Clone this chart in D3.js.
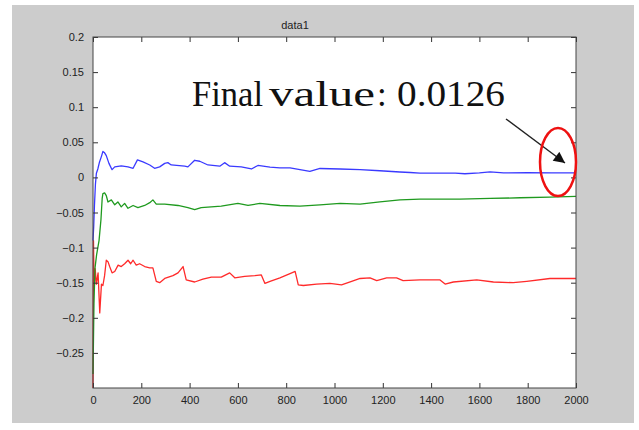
<!DOCTYPE html>
<html lang="en">
<head>
<meta charset="UTF-8">
<script src="https://cdn.jsdelivr.net/npm/d3@7/dist/d3.min.js"></script>
<title>data1</title>
<style>
  body { margin: 0; background: #fff; }
  svg text { font-family: "Liberation Sans", Arial, sans-serif; }
  svg text.serif { font-family: "Liberation Serif", "Times New Roman", serif; }
</style>
</head>
<body>
<svg id="chart" width="639" height="430"></svg>
<script>
// step -> value
const blueSteps = [0, 3, 6, 10, 14, 20, 27, 35, 41, 48, 55, 66, 79, 90, 117, 145, 166, 184, 207, 235, 255, 276, 297, 310, 324, 380, 393, 421, 442, 476, 525, 545, 566, 614, 656, 683, 733, 774, 816, 857, 898, 940, 1023, 1106, 1188, 1271, 1313, 1354, 1437, 1500, 1540, 1600, 1644, 1700, 1800, 1900, 2000];
const blue = [-0.09, -0.07, -0.04, -0.01, 0.006, 0.012, 0.022, 0.03, 0.037, 0.035, 0.031, 0.02, 0.011, 0.015, 0.0163, 0.015, 0.013, 0.025, 0.022, 0.0177, 0.013, 0.015, 0.02, 0.021, 0.0177, 0.016, 0.015, 0.0244, 0.023, 0.0177, 0.016, 0.021, 0.016, 0.015, 0.012, 0.017, 0.0145, 0.0137, 0.0135, 0.011, 0.0085, 0.0127, 0.012, 0.011, 0.0095, 0.0077, 0.007, 0.006, 0.006, 0.0062, 0.0052, 0.0065, 0.008, 0.0065, 0.0066, 0.0064, 0.0065];

const greenSteps = [0, 4, 8, 15, 25, 33, 38, 41, 48, 55, 62, 76, 90, 103, 117, 131, 145, 166, 186, 214, 235, 248, 262, 297, 352, 393, 421, 448, 531, 600, 642, 691, 774, 857, 940, 1023, 1106, 1188, 1271, 1354, 1437, 1519, 1644, 1768, 1892, 2000];
const green = [-0.28, -0.18, -0.13, -0.11, -0.09, -0.06, -0.03, -0.023, -0.022, -0.026, -0.035, -0.032, -0.039, -0.035, -0.042, -0.037, -0.044, -0.04, -0.043, -0.04, -0.036, -0.032, -0.038, -0.038, -0.04, -0.043, -0.046, -0.043, -0.041, -0.037, -0.04, -0.037, -0.04, -0.041, -0.039, -0.037, -0.038, -0.035, -0.032, -0.031, -0.031, -0.031, -0.03, -0.029, -0.028, -0.027];

const redSteps = [0, 2, 5, 9, 14, 21, 28, 35, 41, 48, 55, 62, 69, 79, 90, 104, 117, 131, 145, 156, 166, 179, 193, 214, 235, 248, 262, 276, 297, 331, 352, 373, 386, 421, 455, 490, 531, 566, 587, 628, 670, 697, 712, 733, 774, 823, 837, 850, 871, 926, 981, 1029, 1071, 1106, 1147, 1175, 1216, 1257, 1284, 1354, 1437, 1458, 1492, 1589, 1658, 1740, 1796, 1892, 2000];
const red = [-0.3, -0.09, -0.16, -0.13, -0.152, -0.136, -0.193, -0.152, -0.154, -0.14, -0.118, -0.12, -0.127, -0.136, -0.134, -0.125, -0.127, -0.123, -0.118, -0.123, -0.118, -0.125, -0.123, -0.127, -0.129, -0.129, -0.148, -0.15, -0.144, -0.14, -0.136, -0.127, -0.146, -0.149, -0.145, -0.142, -0.142, -0.136, -0.143, -0.141, -0.14, -0.139, -0.151, -0.148, -0.143, -0.136, -0.134, -0.153, -0.154, -0.152, -0.151, -0.153, -0.148, -0.144, -0.143, -0.147, -0.143, -0.143, -0.147, -0.146, -0.146, -0.152, -0.149, -0.146, -0.149, -0.15, -0.148, -0.144, -0.144];

const xTicks = [0, 200, 400, 600, 800, 1000, 1200, 1400, 1600, 1800, 2000];
const yTicks = [-0.25, -0.2, -0.15, -0.1, -0.05, 0, 0.05, 0.1, 0.15, 0.2];

const svg = d3.select('#chart');
const plot = { left: 93, right: 576, top: 37, bottom: 388 };

// grey figure
svg.append('rect').attr('x', 12).attr('y', 5).attr('width', 622).attr('height', 418).attr('fill', '#cccccc');
svg.append('rect').attr('x', plot.left).attr('y', plot.top)
    .attr('width', plot.right - plot.left).attr('height', plot.bottom - plot.top)
    .attr('fill', '#fff');

const x = d3.scaleLinear().domain([0, 2000]).range([plot.left, plot.right]);
const y = d3.scaleLinear().domain([-0.3, 0.2]).range([plot.bottom, plot.top]);

const line = d3.line().x(d => x(d[0])).y(d => y(d[1]));
const series = [
    { steps: redSteps, vals: red, color: '#ff2a2a' },
    { steps: greenSteps, vals: green, color: '#1f9a1f' },
    { steps: blueSteps, vals: blue, color: '#3a3aff' }
];
series.forEach(s => {
    svg.append('path')
        .datum(s.steps.map((t, i) => [t, s.vals[i]]))
        .attr('d', line)
        .attr('fill', 'none')
        .attr('stroke', s.color)
        .attr('stroke-width', 1.3)
        .attr('stroke-linejoin', 'round');
});

// axes, ticks inward on all four sides
const ax = (g, axis) => g.call(axis).call(g => g.select('.domain').remove())
    .call(g => g.selectAll('line').attr('stroke', '#333'));
svg.append('g').attr('transform', `translate(0,${plot.bottom})`)
    .call(g => ax(g, d3.axisBottom(x).tickValues(xTicks).tickSizeInner(-5).tickPadding(8).tickFormat(d3.format('d'))));
svg.append('g').attr('transform', `translate(0,${plot.top})`)
    .call(g => ax(g, d3.axisTop(x).tickValues(xTicks).tickSizeInner(-5).tickFormat('')));
svg.append('g').attr('transform', `translate(${plot.left},0)`)
    .call(g => ax(g, d3.axisLeft(y).tickValues(yTicks).tickSizeInner(-5).tickPadding(9).tickFormat(d => d3.format('')(+d.toFixed(2)))));
svg.append('g').attr('transform', `translate(${plot.right},0)`)
    .call(g => ax(g, d3.axisRight(y).tickValues(yTicks).tickSizeInner(-5).tickFormat('')));
svg.selectAll('.tick text').attr('font-size', 11).attr('fill', '#222');

svg.append('rect').attr('x', plot.left).attr('y', plot.top)
    .attr('width', plot.right - plot.left).attr('height', plot.bottom - plot.top)
    .attr('fill', 'none').attr('stroke', '#444').attr('stroke-width', 1);

svg.append('text').attr('x', 295).attr('y', 29).attr('text-anchor', 'middle')
    .attr('font-size', 11).attr('fill', '#222').text('data1');

// annotation
const ann = svg.append('g').attr('font-size', 35).attr('fill', '#111');
const annParts = [['Final', 192, 71], ['value', 269, 106], [':', 377, null], ['0.0126', 397, 108]];
annParts.forEach(([t, px, w]) => {
    const el = ann.append('text').attr('class', 'serif').attr('x', px).attr('y', 106).text(t);
    if (w) el.attr('textLength', w).attr('lengthAdjust', 'spacingAndGlyphs');
});

svg.append('defs').append('marker').attr('id', 'head')
    .attr('viewBox', '0 0 10 10').attr('refX', 10).attr('refY', 5)
    .attr('markerWidth', 9).attr('markerHeight', 8).attr('markerUnits', 'strokeWidth')
    .attr('orient', 'auto')
    .append('path').attr('d', 'M0,0L10,5L0,10Z').attr('fill', '#111');
svg.append('line').attr('x1', 506).attr('y1', 119).attr('x2', 565).attr('y2', 163)
    .attr('stroke', '#222').attr('stroke-width', 1.4).attr('marker-end', 'url(#head)');

svg.append('ellipse').attr('cx', 558).attr('cy', 162).attr('rx', 18).attr('ry', 34)
    .attr('fill', 'none').attr('stroke', '#ee1111').attr('stroke-width', 2.5);
</script>
</body>
</html>
